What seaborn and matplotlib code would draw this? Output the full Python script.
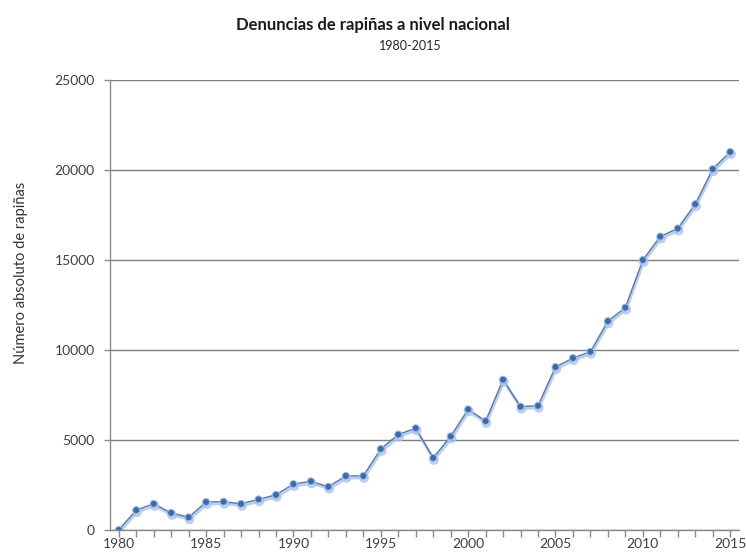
import matplotlib
matplotlib.use('Agg')
import matplotlib.pyplot as plt
import matplotlib.patheffects as pe
from matplotlib.ticker import MultipleLocator
import seaborn as sns
import pandas as pd

# Serie
years = list(range(1980, 2016))
rapinas = [0, 1100, 1450, 950, 700, 1550, 1570, 1450, 1700, 1950,
           2550, 2700, 2400, 3000, 3000, 4500, 5300, 5650, 4000, 5200,
           6700, 6050, 8350, 6850, 6900, 9050, 9550, 9900, 11600, 12350,
           15000, 16300, 16750, 18100, 20050, 21000]

y_ticks = [0, 5000, 10000, 15000, 20000, 25000]
x_labels = [1980, 1985, 1990, 1995, 2000, 2005, 2010, 2015]

df = pd.DataFrame({'anio': years, 'rapinas': rapinas})

sns.set_style('white')
plt.rcParams['font.family'] = ['Lato', 'DejaVu Sans']

fig = plt.figure(figsize=(7.46, 5.59), dpi=100)
ax = fig.add_axes([0.1475, 0.052, 0.843, 0.805])

shadow = [pe.SimpleLineShadow(offset=(0.6, -1.5), shadow_color='#a9c4ea', alpha=0.8, linewidth=2.0),
          pe.Normal()]
sns.lineplot(data=df, x='anio', y='rapinas', ax=ax, color='#5876a3', linewidth=1.0,
             marker='o', markersize=5, markerfacecolor='#3e6aab', markeredgecolor='#9dbbe3',
             markeredgewidth=0.7, path_effects=shadow)

ax.set_xlim(1979.5, 2015.5)
ax.set_ylim(0, 25000)
ax.set_yticks(y_ticks)
ax.set_xticks(x_labels)
ax.xaxis.set_minor_locator(MultipleLocator(1))
ax.yaxis.grid(True, color='#7f7f7f', linewidth=1.0)
ax.xaxis.grid(False)
ax.set_axisbelow(True)

for side in ['top', 'right']:
    ax.spines[side].set_visible(False)
for side in ['left', 'bottom']:
    ax.spines[side].set_color('#8a8a8a')
    ax.spines[side].set_linewidth(1.0)

ax.tick_params(axis='y', which='major', direction='out', length=4, width=1, color='#8a8a8a',
               labelsize=10, labelcolor='#404040', pad=7, left=True)
ax.tick_params(axis='x', which='both', direction='out', length=5, width=1, color='#8a8a8a',
               bottom=True)
ax.tick_params(axis='x', which='major', labelsize=10, labelcolor='#404040', pad=1)

ax.set_xlabel('')
ax.set_ylabel('Número absoluto de rapiñas', fontsize=10.5, color='#333333')
ax.yaxis.set_label_coords(-0.13, 0.571)

fig.text(0.5, 0.955, 'Denuncias de rapiñas a nivel nacional', ha='center', va='center',
         fontsize=12, fontweight='bold', color='#1a1a1a')
fig.text(0.55, 0.917, '1980-2015', ha='center', va='center', fontsize=9, color='#262626')

fig.savefig('out.png', dpi=100)
